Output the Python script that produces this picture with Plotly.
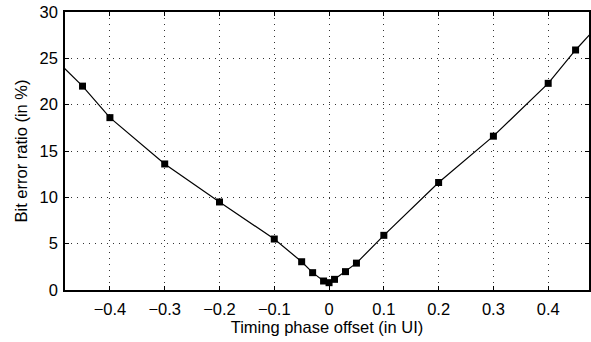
import plotly.graph_objects as go

timing_offset = [-0.5, -0.45, -0.4, -0.3, -0.2, -0.1, -0.05, -0.03, -0.01, 0.0,
                 0.01, 0.03, 0.05, 0.1, 0.2, 0.3, 0.4, 0.45, 0.5]
bit_error_ratio = [24.9, 22.0, 18.6, 13.6, 9.5, 5.5, 3.05, 1.87, 0.97, 0.79,
                   1.15, 1.98, 2.9, 5.9, 11.6, 16.6, 22.3, 25.9, 29.1]
x_ticks = [-0.4, -0.3, -0.2, -0.1, 0, 0.1, 0.2, 0.3, 0.4]
x_tick_labels = ["\u22120.4", "\u22120.3", "\u22120.2", "\u22120.1", "0", "0.1", "0.2", "0.3", "0.4"]
y_ticks = [0, 5, 10, 15, 20, 25, 30]

fig = go.Figure()
fig.add_trace(go.Scatter(
    x=timing_offset, y=bit_error_ratio, mode="lines+markers",
    line=dict(color="black", width=1.2),
    marker=dict(symbol="square", size=7, color="black"),
    cliponaxis=True, showlegend=False,
))

font = dict(family="Liberation Sans, Arial, sans-serif", size=16.5, color="black")
tickfont = dict(family="Liberation Sans, Arial, sans-serif", size=16.5, color="black")
grid = dict(showgrid=True, gridcolor="#333333", griddash="1px,5px", gridwidth=1)
fig.update_layout(
    width=591, height=342,
    margin=dict(l=65, r=0, t=12, b=52),
    paper_bgcolor="white", plot_bgcolor="white",
    font=font,
    xaxis=dict(
        range=[-0.482, 0.4745], tickvals=x_ticks, ticktext=x_tick_labels,
        tickfont=tickfont, ticklabelstandoff=3,
        showline=True, linecolor="black", linewidth=1.5, mirror="ticks",
        ticks="inside", ticklen=4, tickcolor="black",
        zeroline=False, **grid,
        title=dict(text="Timing phase offset (in UI)", standoff=2, font=font),
    ),
    yaxis=dict(
        range=[0, 30], tickvals=y_ticks, tickfont=tickfont, ticklabelstandoff=2,
        showline=True, linecolor="black", linewidth=1.5, mirror="ticks",
        ticks="inside", ticklen=4, tickcolor="black",
        zeroline=False, **grid,
        title=dict(text="Bit error ratio (in %)", standoff=8, font=font),
    ),
)
fig.write_html("out.html")
